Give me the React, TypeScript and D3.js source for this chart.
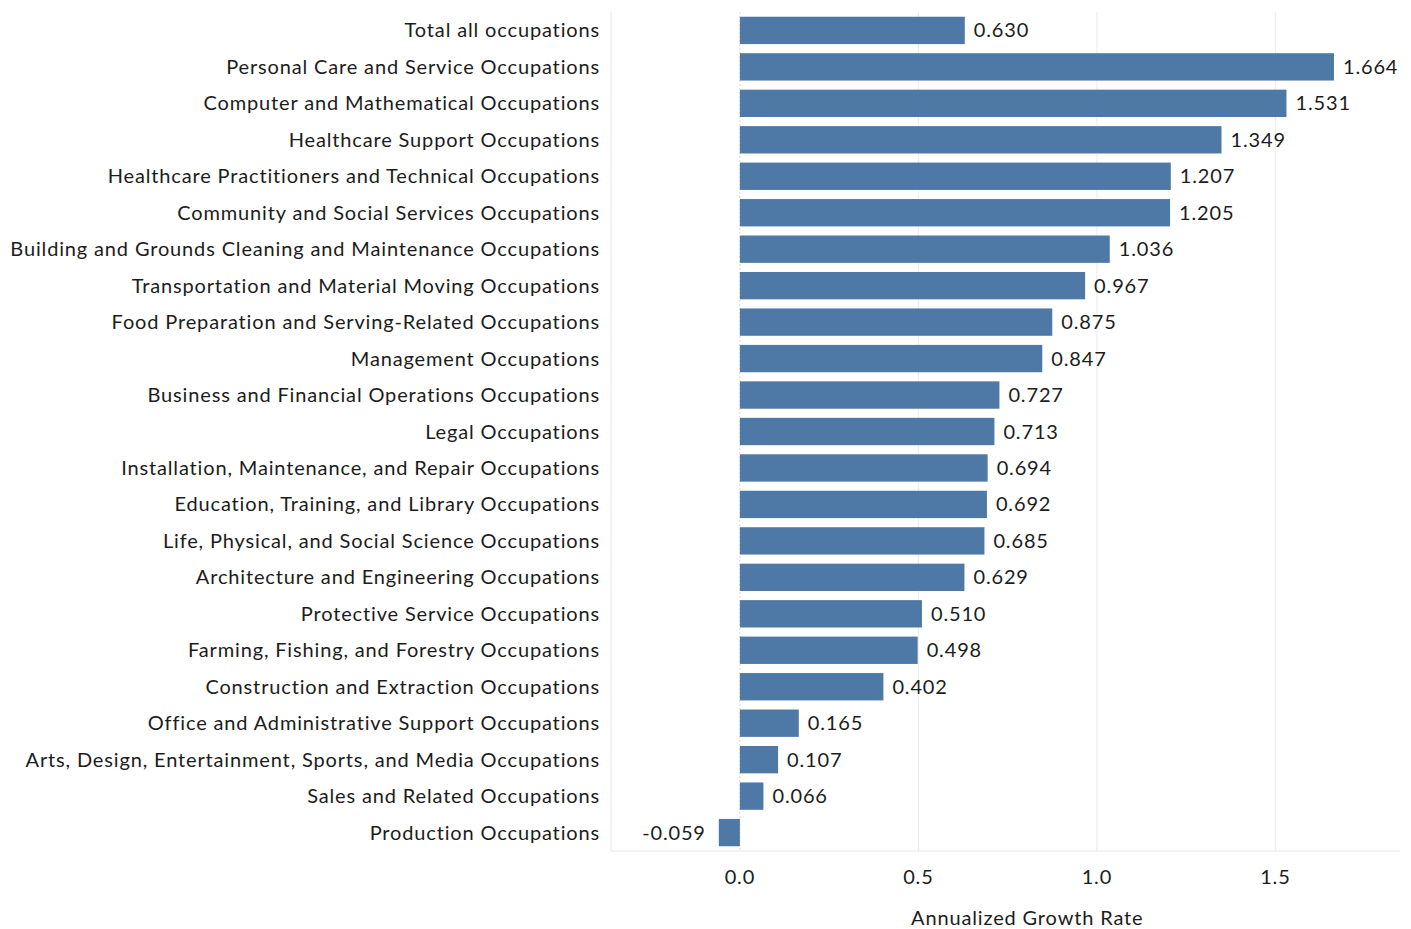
import { useEffect, useRef } from "react";
import * as d3 from "d3";

const categories = [
  "Total all occupations",
  "Personal Care and Service Occupations",
  "Computer and Mathematical Occupations",
  "Healthcare Support Occupations",
  "Healthcare Practitioners and Technical Occupations",
  "Community and Social Services Occupations",
  "Building and Grounds Cleaning and Maintenance Occupations",
  "Transportation and Material Moving Occupations",
  "Food Preparation and Serving-Related Occupations",
  "Management Occupations",
  "Business and Financial Operations Occupations",
  "Legal Occupations",
  "Installation, Maintenance, and Repair Occupations",
  "Education, Training, and Library Occupations",
  "Life, Physical, and Social Science Occupations",
  "Architecture and Engineering Occupations",
  "Protective Service Occupations",
  "Farming, Fishing, and Forestry Occupations",
  "Construction and Extraction Occupations",
  "Office and Administrative Support Occupations",
  "Arts, Design, Entertainment, Sports, and Media Occupations",
  "Sales and Related Occupations",
  "Production Occupations",
];

const growth = [
  0.63, 1.664, 1.531, 1.349, 1.207, 1.205, 1.036, 0.967, 0.875, 0.847, 0.727,
  0.713, 0.694, 0.692, 0.685, 0.629, 0.51, 0.498, 0.402, 0.165, 0.107, 0.066,
  -0.059,
];

const xTicks = [0, 0.5, 1.0, 1.5];

export default function App() {
  const svgRef = useRef(null);

  useEffect(() => {
    const svg = d3.select(svgRef.current);
    svg.selectAll("*").remove();

    const width = 1411;
    const height = 929;
    const margin = { top: 12, right: 11, bottom: 78, left: 611 };
    const innerWidth = width - margin.left - margin.right;
    const innerHeight = height - margin.top - margin.bottom;
    const font = "Lato, 'Open Sans', sans-serif";
    const textColor = "#1c1c1c";
    const spacing = "0.85px";

    svg.attr("width", width).attr("height", height);

    const data = categories.map((c, i) => ({ name: c, value: growth[i] }));

    const x = d3.scaleLinear().domain([-0.361, 1.849]).range([0, innerWidth]);
    const y = d3
      .scaleBand()
      .domain(categories)
      .range([0, innerHeight])
      .paddingInner(0.25)
      .paddingOuter(0.13);

    const fmt = (v, p) => d3.format(p)(v).replace("\u2212", "-");

    const chart = svg
      .append("g")
      .attr("transform", `translate(${margin.left}, ${margin.top})`);

    // grid
    chart
      .selectAll("line.grid")
      .data(xTicks.filter((t) => t !== 0))
      .enter()
      .append("line")
      .attr("class", "grid")
      .attr("x1", (d) => x(d))
      .attr("x2", (d) => x(d))
      .attr("y1", 0)
      .attr("y2", innerHeight)
      .attr("stroke", "#ebebeb")
      .attr("stroke-width", 1);

    chart
      .append("line")
      .attr("x1", 0)
      .attr("x2", 0)
      .attr("y1", 0)
      .attr("y2", innerHeight)
      .attr("stroke", "#e6e6e6");

    chart
      .append("line")
      .attr("x1", 0)
      .attr("x2", innerWidth)
      .attr("y1", innerHeight)
      .attr("y2", innerHeight)
      .attr("stroke", "#e6e6e6");

    chart
      .append("line")
      .attr("x1", x(0))
      .attr("x2", x(0))
      .attr("y1", 0)
      .attr("y2", innerHeight)
      .attr("stroke", "#d9d9d9")
      .attr("stroke-dasharray", "2,2");

    // bars
    chart
      .selectAll("rect.bar")
      .data(data)
      .enter()
      .append("rect")
      .attr("class", "bar")
      .attr("x", (d) => x(Math.min(0, d.value)))
      .attr("y", (d) => y(d.name))
      .attr("width", (d) => Math.abs(x(d.value) - x(0)))
      .attr("height", y.bandwidth())
      .attr("fill", "#4e79a7");

    // value labels
    chart
      .selectAll("text.value")
      .data(data)
      .enter()
      .append("text")
      .attr("class", "value")
      .attr("x", (d) => (d.value >= 0 ? x(d.value) + 9 : x(d.value) - 13))
      .attr("y", (d) => y(d.name) + y.bandwidth() / 2)
      .attr("dy", "0.35em")
      .attr("text-anchor", (d) => (d.value >= 0 ? "start" : "end"))
      .attr("font-family", font)
      .attr("font-size", 20)
      .attr("letter-spacing", spacing)
      .attr("fill", textColor)
      .text((d) => fmt(d.value, ".3f"));

    // category labels
    chart
      .selectAll("text.cat")
      .data(data)
      .enter()
      .append("text")
      .attr("class", "cat")
      .attr("x", -11)
      .attr("y", (d) => y(d.name) + y.bandwidth() / 2)
      .attr("dy", "0.35em")
      .attr("text-anchor", "end")
      .attr("font-family", font)
      .attr("font-size", 20)
      .attr("letter-spacing", spacing)
      .attr("fill", textColor)
      .text((d) => d.name);

    // x tick labels
    chart
      .selectAll("text.tick")
      .data(xTicks)
      .enter()
      .append("text")
      .attr("class", "tick")
      .attr("x", (d) => x(d))
      .attr("y", innerHeight + 26)
      .attr("dy", "0.35em")
      .attr("text-anchor", "middle")
      .attr("font-family", font)
      .attr("font-size", 20)
      .attr("letter-spacing", spacing)
      .attr("fill", textColor)
      .text((d) => fmt(d, ".1f"));

    chart
      .append("text")
      .attr("x", x(0.805))
      .attr("y", innerHeight + 67)
      .attr("dy", "0.35em")
      .attr("text-anchor", "middle")
      .attr("font-family", font)
      .attr("font-size", 20)
      .attr("letter-spacing", spacing)
      .attr("fill", textColor)
      .text("Annualized Growth Rate");
  }, []);

  return (
    <div style={{ position: "absolute", left: 0, top: 0 }}>
      <svg ref={svgRef}></svg>
    </div>
  );
}
